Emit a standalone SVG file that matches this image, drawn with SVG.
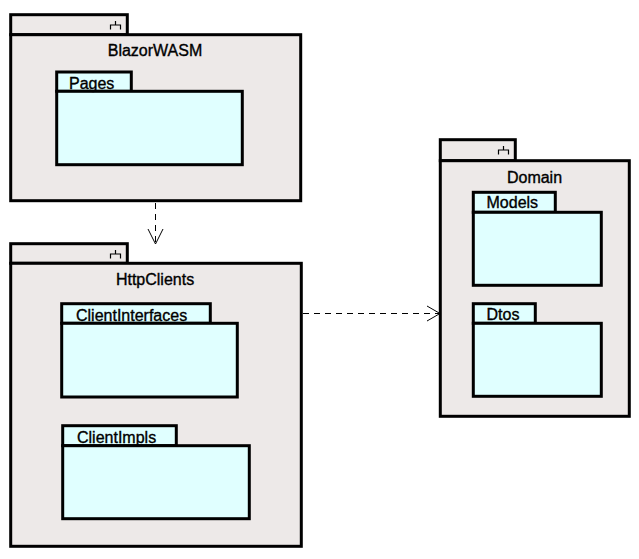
<svg xmlns="http://www.w3.org/2000/svg" width="639" height="559" viewBox="0 0 639 559">
<style>
.pkg{fill:#EDE9E8;stroke:#000;stroke-width:3}
.sub{fill:#E0FFFF;stroke:#000;stroke-width:3}
.t{font-family:"Liberation Sans",Arial,sans-serif;font-size:16px;fill:#000;stroke:#000;stroke-width:0.35}
.c{text-anchor:middle}
.icon{fill:none;stroke:#000;stroke-width:1.2}
.dep{fill:none;stroke:#000;stroke-width:1;stroke-dasharray:6,5}
.head{fill:none;stroke:#000;stroke-width:1}
</style>
<rect width="639" height="559" fill="#fff"/>
<g id="BlazorWASM">
<rect class="pkg" x="10.7" y="14.7" width="116.6" height="20"/>
<rect class="pkg" x="10.7" y="34.7" width="290" height="166"/>
<path class="icon" d="M115.5 21V25M110.5 29.5V25H120.5V29.5"/>
<text class="t c" x="155" y="56">BlazorWASM</text>
<g id="Pages">
<rect class="sub" x="56.7" y="72" width="74.6" height="19.3"/>
<rect class="sub" x="56.7" y="91.3" width="185.6" height="73.4"/>
<text class="t" x="69" y="88.5">Pages</text>
</g>
</g>
<g id="HttpClients">
<rect class="pkg" x="10.7" y="243.7" width="116.6" height="19.6"/>
<rect class="pkg" x="10.7" y="263.3" width="290.6" height="283"/>
<path class="icon" d="M115.5 250V254M110.5 258.5V254H120.5V258.5"/>
<text class="t c" x="155" y="285">HttpClients</text>
<g id="ClientInterfaces">
<rect class="sub" x="61.7" y="303.7" width="148.6" height="19.6"/>
<rect class="sub" x="61.7" y="323.3" width="175.6" height="73.7"/>
<text class="t" x="76" y="320.5">ClientInterfaces</text>
</g>
<g id="ClientImpls">
<rect class="sub" x="62.7" y="425.7" width="113.6" height="20"/>
<rect class="sub" x="62.7" y="445.7" width="186.6" height="73"/>
<text class="t" x="77" y="442.5">ClientImpls</text>
</g>
</g>
<g id="Domain">
<rect class="pkg" x="440.3" y="139.7" width="75" height="21"/>
<rect class="pkg" x="440.3" y="160.7" width="189" height="255.6"/>
<path class="icon" d="M503.5 146V150M498.5 154.5V150H508.5V154.5"/>
<text class="t c" x="534.5" y="183">Domain</text>
<g id="Models">
<rect class="sub" x="473.3" y="192.3" width="82" height="20"/>
<rect class="sub" x="473.3" y="212.3" width="128" height="73"/>
<text class="t" x="486.5" y="208">Models</text>
</g>
<g id="Dtos">
<rect class="sub" x="473.3" y="303.7" width="62" height="19.6"/>
<rect class="sub" x="473.3" y="323.3" width="128" height="73"/>
<text class="t" x="486.5" y="320">Dtos</text>
</g>
</g>
<g id="connectors">
<line class="dep" x1="155.5" y1="203" x2="155.5" y2="243"/>
<path class="head" d="M148 229L155.5 244L163 229"/>
<line class="dep" x1="303" y1="313.5" x2="439" y2="313.5"/>
<path class="head" d="M427 306L440 313.5L427 321"/>
</g>
</svg>
